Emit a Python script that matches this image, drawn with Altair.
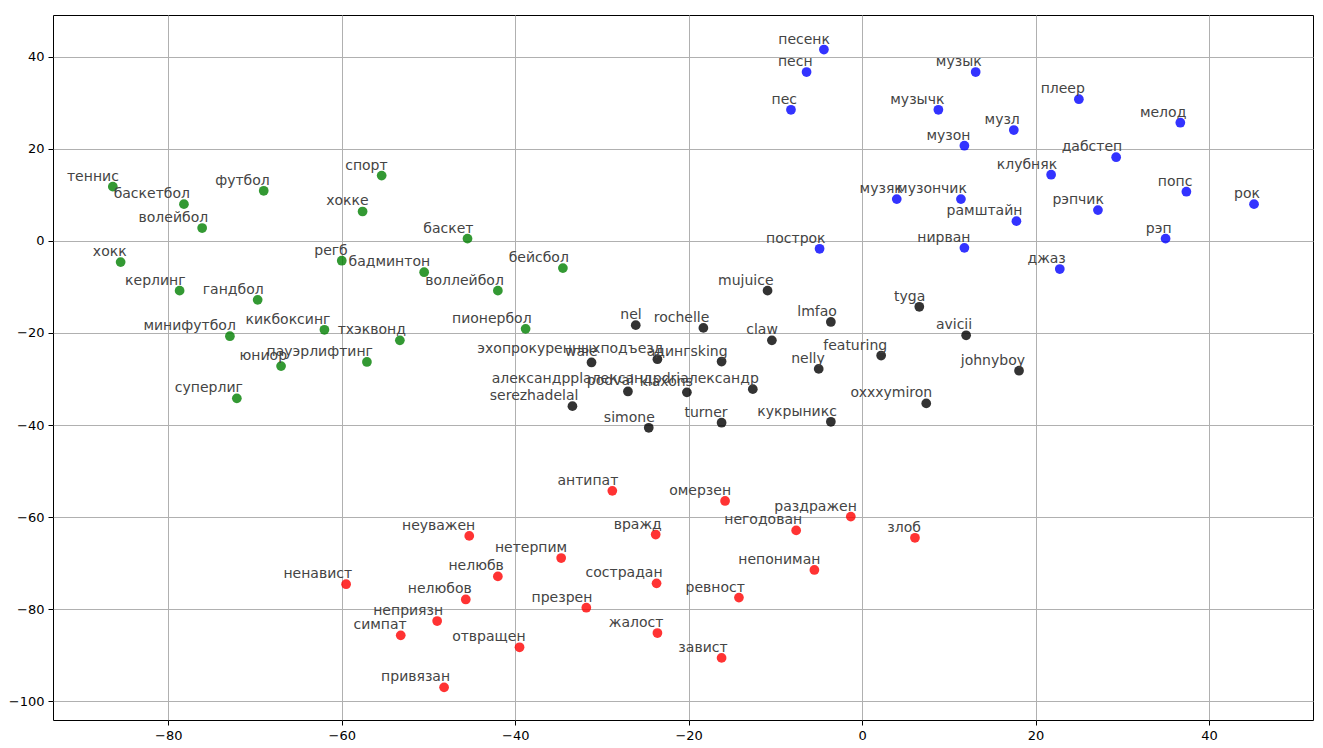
import altair as alt
import pandas as pd

sport_words = ["теннис", "баскетбол", "волейбол", "футбол", "хокк", "керлинг", "гандбол", "регб",
               "кикбоксинг", "минифутбол", "юниор", "суперлиг", "пауэрлифтинг", "тхэквонд", "спорт",
               "хокке", "баскет", "бадминтон", "воллейбол", "бейсбол", "пионербол"]
sport_x = [-86.4, -78.2, -76.1, -69.0, -85.5, -78.7, -69.7, -60.0,
           -62.0, -72.9, -67.0, -72.1, -57.1, -53.3, -55.4,
           -57.6, -45.5, -50.5, -42.0, -34.5, -38.8]
sport_y = [11.8, 8.0, 2.8, 10.9, -4.6, -10.8, -12.8, -4.3,
           -19.3, -20.7, -27.2, -34.2, -26.3, -21.6, 14.2,
           6.4, 0.5, -6.8, -10.8, -5.9, -19.1]

artist_words = ["nel", "rochelle", "wale", "эхопрокуренныхподъезд", "адингsking", "podval", "klaxons",
                "александрplалександрdriалександр", "serezhadelal", "simone", "turner", "mujuice", "lmfao",
                "claw", "tyga", "avicii", "featuring", "nelly", "johnyboy", "oxxxymiron", "кукрыникс"]
artist_x = [-26.1, -18.3, -31.2, -23.6, -16.2, -27.0, -20.2,
            -12.6, -33.4, -24.6, -16.2, -10.9, -3.6,
            -10.4, 6.6, 12.0, 2.2, -5.0, 18.1, 7.4, -3.6]
artist_y = [-18.3, -18.9, -26.4, -25.7, -26.2, -32.7, -32.9,
            -32.2, -35.9, -40.6, -39.5, -10.8, -17.6,
            -21.6, -14.3, -20.5, -24.9, -27.8, -28.2, -35.3, -39.3]

music_words = ["песенк", "песн", "пес", "музык", "музычк", "музл", "музон", "музяк", "музончик",
               "рамштайн", "построк", "нирван", "плеер", "мелод", "дабстеп", "клубняк", "попс",
               "рок", "рэпчик", "рэп", "джаз"]
music_x = [-4.4, -6.4, -8.2, 13.1, 8.8, 17.5, 11.8, 4.0, 11.4,
           17.8, -4.9, 11.8, 25.0, 36.7, 29.3, 21.8, 37.4,
           45.2, 27.2, 35.0, 22.8]
music_y = [41.6, 36.7, 28.5, 36.7, 28.5, 24.1, 20.7, 9.1, 9.1,
           4.3, -1.7, -1.5, 30.8, 25.7, 18.2, 14.4, 10.7,
           8.0, 6.7, 0.5, -6.1]

emotion_words = ["неуважен", "нетерпим", "нелюбв", "ненавист", "нелюбов", "презрен", "неприязн",
                 "симпат", "отвращен", "привязан", "антипат", "омерзен", "раздражен", "вражд",
                 "негодован", "злоб", "непониман", "сострадан", "ревност", "жалост", "завист"]
emotion_x = [-45.3, -34.7, -42.0, -59.5, -45.7, -31.8, -49.0,
             -53.2, -39.5, -48.2, -28.8, -15.8, -1.3, -23.8,
             -7.6, 6.1, -5.5, -23.7, -14.2, -23.6, -16.2]
emotion_y = [-64.1, -68.9, -72.9, -74.6, -77.9, -79.7, -82.6,
             -85.7, -88.3, -97.0, -54.3, -56.5, -59.9, -63.8,
             -62.9, -64.5, -71.5, -74.4, -77.5, -85.2, -90.6]

groups = ["sport", "music", "artist", "emotion"]
group_colors = ["#008000", "#0000ff", "#000000", "#ff0000"]

x_ticks = [-80, -60, -40, -20, 0, 20, 40]
y_ticks = [-100, -80, -60, -40, -20, 0, 20, 40]

rows = []
for g, words, xs, ys in [("sport", sport_words, sport_x, sport_y),
                         ("music", music_words, music_x, music_y),
                         ("artist", artist_words, artist_x, artist_y),
                         ("emotion", emotion_words, emotion_x, emotion_y)]:
    for w, x, y in zip(words, xs, ys):
        rows.append({"word": w, "x": x, "y": y, "group": g})
df = pd.DataFrame(rows)

xscale = alt.Scale(domain=[-93.3, 52.0], nice=False, zero=False)
yscale = alt.Scale(domain=[-104.1, 49.1], nice=False, zero=False)

base = alt.Chart(df)

points = base.mark_circle(size=95, opacity=0.8).encode(
    x=alt.X("x:Q", scale=xscale,
            axis=alt.Axis(values=x_ticks, title=None, grid=True, gridColor="#b0b0b0",
                          gridWidth=1, tickSize=5, tickColor="black", labelColor="black",
                          labelFontSize=13, labelFont="DejaVu Sans", labelPadding=4,
                          domain=False)),
    y=alt.Y("y:Q", scale=yscale,
            axis=alt.Axis(values=y_ticks, title=None, grid=True, gridColor="#b0b0b0",
                          gridWidth=1, tickSize=5, tickColor="black", labelColor="black",
                          labelFontSize=13, labelFont="DejaVu Sans", labelPadding=4,
                          domain=False)),
    color=alt.Color("group:N", scale=alt.Scale(domain=groups, range=group_colors), legend=None),
)

labels = base.mark_text(align="right", baseline="bottom", dx=6, dy=-3, fontSize=14,
                        font="DejaVu Sans", color="#444444").encode(
    x=alt.X("x:Q", scale=xscale),
    y=alt.Y("y:Q", scale=yscale),
    text="word:N",
)

chart = alt.layer(points, labels).properties(
    width=1260, height=705,
    autosize=alt.AutoSizeParams(type="none"),
    padding={"left": 45, "top": 7, "right": 2, "bottom": 30},
).configure_view(stroke="black", strokeWidth=1)

chart.save("out.html", embed_options={"renderer": "svg", "actions": False})
